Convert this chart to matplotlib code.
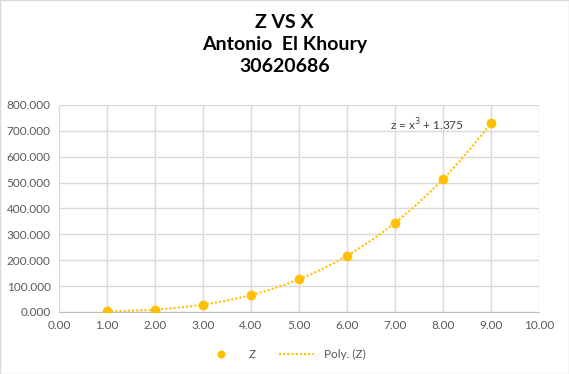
import numpy as np
import matplotlib
matplotlib.use("Agg")
from matplotlib import pyplot as plt
from matplotlib.patches import Rectangle

x = [1, 2, 3, 4, 5, 6, 7, 8, 9]
z = [2.375, 9.375, 28.375, 65.375, 126.375, 217.375, 344.375, 513.375, 730.375]
title = "Z VS X\nAntonio  El Khoury\n30620686"
eq_label = "z = x$^3$ + 1.375"

plt.rcParams['font.family'] = ['Lato', 'DejaVu Sans']
gold = "#FFC000"
tick_col = "#595959"

fig = plt.figure(figsize=(5.69, 3.74), dpi=100)
ax = fig.add_axes([0.1037, 0.1658, 0.8435, 0.5535])

# trendline: cubic fit through the points
coef = np.polyfit(x, z, 3)
xs = np.linspace(1, 9, 200)
ax.plot(xs, np.polyval(coef, xs), color=gold, linestyle=(0, (1, 1)), linewidth=1.5, label="Poly. (Z)", zorder=2)
ax.plot(x, z, 'o', color=gold, markersize=6, label="Z", zorder=3)

ax.set_xlim(0, 10)
ax.set_ylim(0, 800)
ax.set_xticks(np.arange(0, 11, 1))
ax.set_yticks(np.arange(0, 801, 100))
ax.set_xticklabels(["%.2f" % v for v in np.arange(0, 11, 1)])
ax.set_yticklabels(["%.3f" % v for v in np.arange(0, 801, 100)])
ax.tick_params(colors=tick_col, labelsize=8.5, length=0, pad=6)
ax.grid(True, color="#D9D9D9", linewidth=1)
ax.set_axisbelow(True)
for s in ["top", "right", "left"]:
    ax.spines[s].set_visible(False)
ax.spines["bottom"].set_color("#BFBFBF")

ax.text(6.9, 722, eq_label, color="#404040", fontsize=8.5, va="center")

fig.text(0.5, 0.88, title, ha="center", va="center", fontsize=14, fontweight="bold",
         linespacing=1.35, color="black")

handles, labels = ax.get_legend_handles_labels()
fig.legend(handles[::-1], labels[::-1], loc="center", bbox_to_anchor=(0.5, 0.053), ncol=2,
           frameon=False, fontsize=8.5, labelcolor=tick_col, handlelength=3, columnspacing=2,
           markerscale=0.8)

fig.patches.append(Rectangle((0, 0), 1, 1, transform=fig.transFigure, fill=False,
                             edgecolor="#D9D9D9", linewidth=1))

fig.savefig("out.png", dpi=100)
